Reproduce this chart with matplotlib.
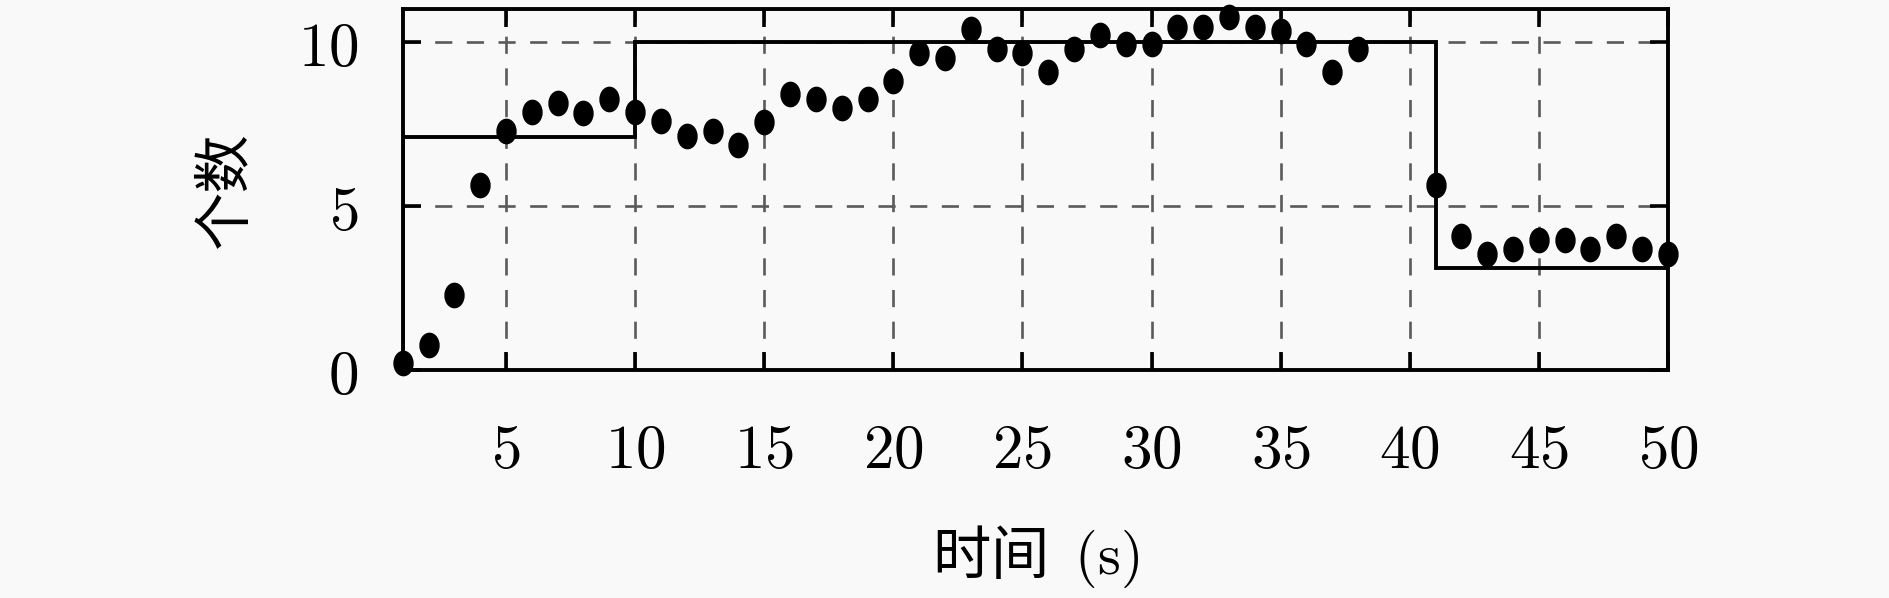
import matplotlib
matplotlib.use("Agg")
import matplotlib.pyplot as plt
import matplotlib.path as mpath
from matplotlib.ticker import FuncFormatter
import numpy as np

plt.rcParams['mathtext.fontset'] = 'cm'
plt.rcParams['font.family'] = ['Noto Sans CJK SC', 'DejaVu Sans']

# measured counts per second
t = [1, 2, 3, 4, 5, 6, 7, 8, 9, 10, 11, 12, 13, 14, 15, 16, 17, 18, 19, 20,
     21, 22, 23, 24, 25, 26, 27, 28, 29, 30, 31, 32, 33, 34, 35, 36, 37, 38,
     41, 42, 43, 44, 45, 46, 47, 48, 49, 50]
counts = [0.2, 0.76, 2.28, 5.63, 7.3, 7.86, 8.14, 7.84, 8.28, 7.86,
          7.58, 7.15, 7.3, 6.87, 7.56, 8.41, 8.26, 7.99, 8.26, 8.82,
          9.66, 9.51, 10.39, 9.78, 9.66, 9.1, 9.78, 10.22, 9.94, 9.94,
          10.47, 10.47, 10.78, 10.47, 10.34, 9.94, 9.1, 9.78,
          5.63, 4.09, 3.53, 3.68, 3.95, 3.95, 3.68, 4.09, 3.68, 3.55]

# true value (piecewise constant)
edges = [1, 10, 41, 50]
levels = [7.1, 10, 3.1]

xticks = [5, 10, 15, 20, 25, 30, 35, 40, 45, 50]
yticks = [0, 5, 10]

fig = plt.figure(figsize=(18.9, 5.98), dpi=100, facecolor='#f9f9f9')
ax = fig.add_axes([0.2131, 0.3813, 0.6694, 0.6031])
ax.set_facecolor('#f9f9f9')

# slightly tall ellipse marker
circ = mpath.Path.unit_circle()
ell = mpath.Path(circ.vertices * np.array([0.78, 1.0]), circ.codes)

ax.stairs(levels, edges, baseline=0, color='black', linewidth=2.8, zorder=3)
ax.plot(t, counts, linestyle='none', marker=ell, markersize=17.5,
        color='black', clip_on=False, zorder=4)

ax.set_xlim(1, 50)
ax.set_ylim(0, 11)
ax.set_xticks(xticks)
ax.set_yticks(yticks)
fmt = FuncFormatter(lambda v, p: '$%d$' % v)
ax.xaxis.set_major_formatter(fmt)
ax.yaxis.set_major_formatter(fmt)

ax.grid(True, color='#5a5a5a', linestyle=(0, (6.5, 5.5)), linewidth=1.9, zorder=1)
ax.tick_params(direction='in', top=True, right=True, length=13, width=2.6,
               labelsize=44)
ax.tick_params(axis='x', pad=36)
ax.tick_params(axis='y', pad=32)
for s in ax.spines.values():
    s.set_linewidth(2.8)

ax.set_xlabel('时间  $\\mathrm{(s)}$', fontsize=42, labelpad=30)
ax.set_ylabel('个数', fontsize=42, labelpad=30)

fig.savefig('out.png', dpi=100, facecolor=fig.get_facecolor())
